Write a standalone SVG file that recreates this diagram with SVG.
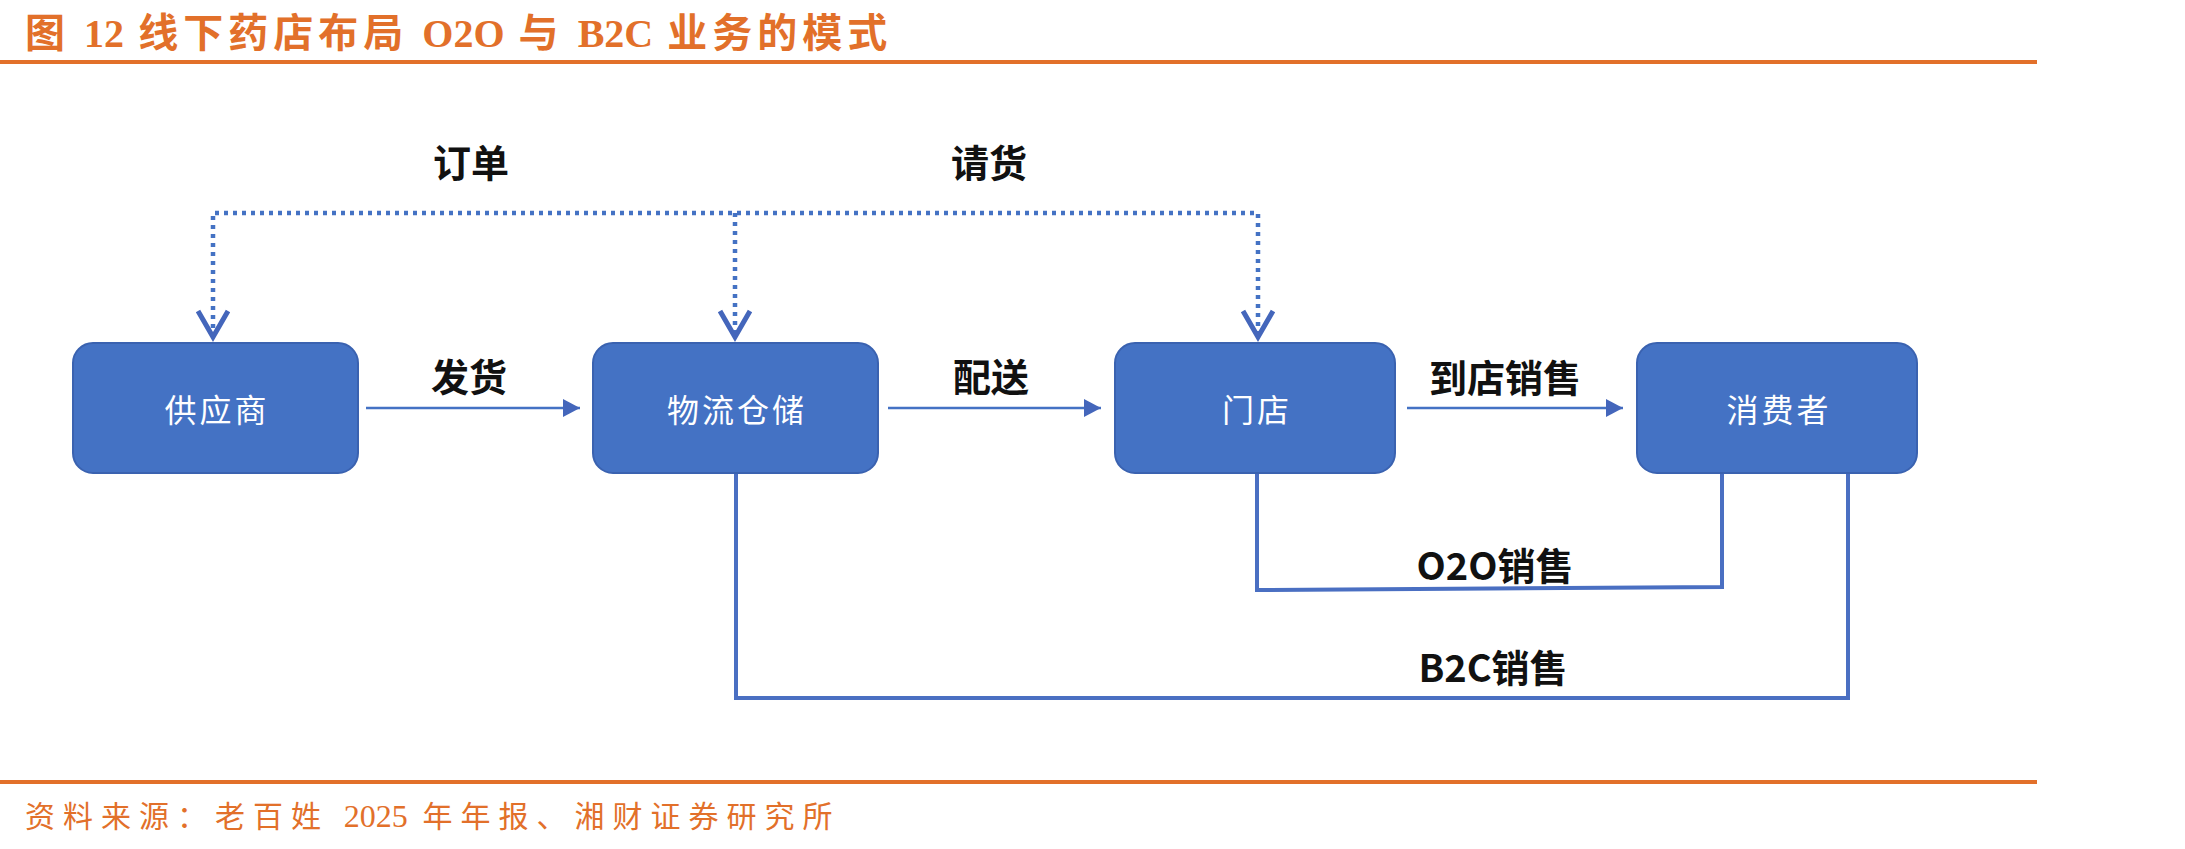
<svg xmlns="http://www.w3.org/2000/svg" width="2185" height="849" viewBox="0 0 2185 849">
<defs>
<style>
.title{font-family:"Noto Sans CJK SC","Noto Sans",sans-serif;font-weight:700;font-size:40px;fill:#E2702A;letter-spacing:5px}
.lat{font-family:"Liberation Serif",serif;letter-spacing:0px}
.src{font-family:"Noto Sans CJK SC","Noto Sans",sans-serif;font-weight:400;font-size:30px;fill:#E2702A;letter-spacing:8px}
.srclat{font-family:"Liberation Serif",serif;font-size:32px;letter-spacing:0px}
.rule{stroke:#E2702A;stroke-width:4}
.box{fill:#4472C4;stroke:#3A62B0;stroke-width:2}
.nlab{font-family:"Noto Sans CJK SC","Noto Sans",sans-serif;font-weight:400;font-size:32px;fill:#FFFFFF;letter-spacing:3px;text-anchor:middle;dominant-baseline:central}
.elab{font-family:"Noto Sans CJK SC","Noto Sans",sans-serif;font-weight:700;font-size:38px;fill:#111111;text-anchor:middle;dominant-baseline:central}
.flow{stroke:#4472C4;stroke-width:2.5;fill:none}
.dot{stroke:#4472C4;stroke-width:4.5;fill:none;stroke-dasharray:4 5}
.chev{stroke:#4466BB;stroke-width:5;fill:none;stroke-linejoin:miter}
.sale{stroke:#4A6FC2;stroke-width:4;fill:none}
</style>
<marker id="arr" markerUnits="userSpaceOnUse" markerWidth="18" markerHeight="18" refX="17" refY="9" orient="auto">
<path d="M0,0 L17,9 L0,18 Z" fill="#4466BB"/>
</marker>
</defs>
<rect width="2185" height="849" fill="#FFFFFF"/>

<g id="header">
<text class="title" x="25" y="47">图 <tspan class="lat">12</tspan> 线下药店布局 <tspan class="lat">O2O</tspan> 与 <tspan class="lat">B2C</tspan> 业务的模式</text>
<line class="rule" x1="0" y1="62" x2="2037" y2="62"/>
</g>

<g id="connectors">
<polyline class="dot" points="213,337 213,213 1258,213 1258,337"/>
<line class="dot" x1="735" y1="213" x2="735" y2="337"/>
<polyline class="chev" points="198,311 213,337 228,311"/>
<polyline class="chev" points="720,311 735,337 750,311"/>
<polyline class="chev" points="1243,311 1258,337 1273,311"/>
<line class="flow" x1="366" y1="408" x2="580" y2="408" marker-end="url(#arr)"/>
<line class="flow" x1="888" y1="408" x2="1101" y2="408" marker-end="url(#arr)"/>
<line class="flow" x1="1407" y1="408" x2="1623" y2="408" marker-end="url(#arr)"/>
<polyline class="sale" points="1257,473 1257,590 1722,587 1722,473"/>
<polyline class="sale" points="736,473 736,698 1848,698 1848,473"/>
<text class="elab" x="471" y="160">订单</text>
<text class="elab" x="989" y="160">请货</text>
<text class="elab" x="469" y="374">发货</text>
<text class="elab" x="991" y="374">配送</text>
<text class="elab" x="1505" y="375">到店销售</text>
<text class="elab" x="1495" y="563">O2O销售</text>
<text class="elab" x="1493" y="665">B2C销售</text>
</g>

<g id="node-supplier">
<rect class="box" x="73" y="343" width="285" height="130" rx="20"/>
<text class="nlab" x="217" y="408">供应商</text>
</g>
<g id="node-warehouse">
<rect class="box" x="593" y="343" width="285" height="130" rx="20"/>
<text class="nlab" x="737" y="408">物流仓储</text>
</g>
<g id="node-store">
<rect class="box" x="1115" y="343" width="280" height="130" rx="20"/>
<text class="nlab" x="1257" y="408">门店</text>
</g>
<g id="node-consumer">
<rect class="box" x="1637" y="343" width="280" height="130" rx="20"/>
<text class="nlab" x="1779" y="408">消费者</text>
</g>

<g id="footer">
<line class="rule" x1="0" y1="782" x2="2037" y2="782"/>
<text class="src" x="25" y="827">资料来源：老百姓 <tspan class="srclat">2025</tspan> 年年报、湘财证券研究所</text>
</g>
</svg>
